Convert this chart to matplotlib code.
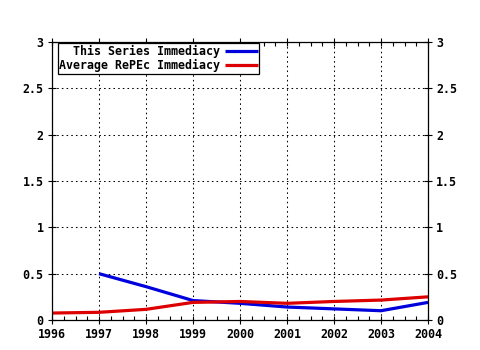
import numpy as np
import matplotlib
matplotlib.use("Agg")
import matplotlib.pyplot as plt
from matplotlib.ticker import MultipleLocator, FuncFormatter

# data
years = [1996, 1997, 1998, 1999, 2000, 2001, 2002, 2003, 2004]
series_years = [1997, 1998, 1999, 2000, 2001, 2002, 2003, 2004]
series_imm = [0.50, 0.36, 0.21, 0.18, 0.14, 0.12, 0.10, 0.19]
repec_imm = [0.075, 0.083, 0.115, 0.19, 0.20, 0.18, 0.20, 0.215, 0.25]
yticks = [0, 0.5, 1, 1.5, 2, 2.5, 3]

plt.rcParams['font.family'] = ['DejaVu Sans Mono']
plt.rcParams['font.weight'] = 'bold'
plt.rcParams['font.size'] = 8.4

fig = plt.figure(figsize=(4.8, 3.5), dpi=100)
ax = fig.add_axes([52/480, 30/350, 376/480, 278/350])

ax.plot(series_years, series_imm, color='#0000dd', lw=2.3, label='This Series Immediacy', solid_capstyle='butt')
ax.plot(years, repec_imm, color='#dd0000', lw=2.3, label='Average RePEc Immediacy', solid_capstyle='butt')

ax.set_xlim(1996, 2004)
ax.set_ylim(0, 3)
ax.set_xticks(years)
ax.set_yticks(yticks)
ax.xaxis.set_minor_locator(MultipleLocator(0.25))
ax.yaxis.set_major_formatter(FuncFormatter(lambda v, p: '%g' % v))

ax.grid(True, which='major', color='black', linestyle=(0, (1.5, 3)), lw=0.75)
ax.tick_params(which='major', direction='inout', length=6, width=0.8, top=True, right=True,
               labelright=True, labelsize=8.4, pad=3)
ax.tick_params(which='minor', axis='x', direction='in', length=3, width=0.8, top=True)
ax.tick_params(axis='y', which='minor', left=False, right=False)
for s in ax.spines.values():
    s.set_linewidth(0.9)

leg = ax.legend(loc='upper left', bbox_to_anchor=(0.015, 0.997), markerfirst=False,
                frameon=True, fancybox=False, edgecolor='black', framealpha=1,
                handlelength=2.8, handletextpad=0.4, borderpad=0.15,
                labelspacing=0.1, borderaxespad=0.0)
leg.get_frame().set_linewidth(0.9)
for t in leg.get_texts():
    t.set_ha('right')
# right-align legend text
leg._legend_box.align = 'right'

fig.savefig('out.png', dpi=100)
